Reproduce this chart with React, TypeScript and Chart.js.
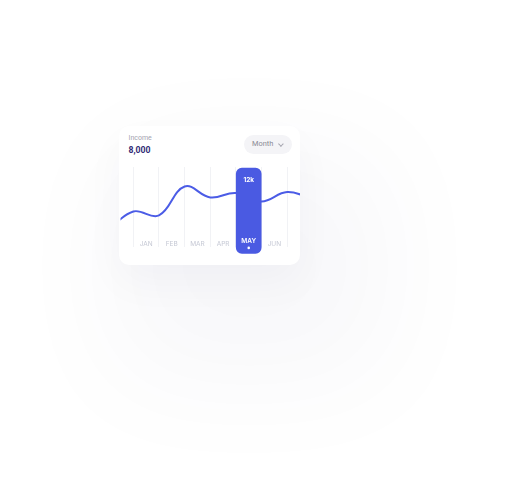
import React, { useEffect, useRef } from 'react';
import { Chart, registerables } from 'chart.js';

Chart.register(...registerables);

const months = ['JAN', 'FEB', 'MAR', 'APR', 'MAY', 'JUN'];
const monthPositions = [1, 2, 3, 4, 5, 6];
const curvePositions = [-0.5, 0.5, 1.5, 2.5, 3.5, 4.5, 5.5, 6.5, 7.5];
const incomeValues = [2.5, 5.33, 4.73, 9.08, 7.43, 8.1, 6.83, 8.25, 7.2];
const highlightIndex = 4;
const highlightRange = [-0.95, 11.85];
const highlightLabel = '12k';
const headerTitle = 'Income';
const headerValue = '8,000';
const periodLabel = 'Month';

const FONT = 'Inter, "Noto Sans", sans-serif';
const HFONT = 'Roboto, Inter, sans-serif';

const barLabelPlugin = {
  id: 'barLabel',
  afterDatasetsDraw(chart: any) {
    const meta = chart.getDatasetMeta(0);
    const bar = meta.data[0];
    if (!bar) return;
    const ctx = chart.ctx;
    ctx.save();
    ctx.fillStyle = '#ffffff';
    ctx.font = `700 6.5px ${FONT}`;
    ctx.textAlign = 'center';
    ctx.textBaseline = 'middle';
    ctx.fillText(highlightLabel, bar.x, bar.y + 12.5);
    ctx.beginPath();
    ctx.arc(bar.x, chart.chartArea.bottom + 0.9, 1.3, 0, Math.PI * 2);
    ctx.fill();
    ctx.restore();
  },
};

function IncomeChart() {
  const ref = useRef<HTMLCanvasElement | null>(null);
  useEffect(() => {
    if (!ref.current) return;
    const tickValues = monthPositions
      .flatMap((p) => [p - 0.5, p])
      .concat([monthPositions[monthPositions.length - 1] + 0.5]);
    const highlightPos = monthPositions[highlightIndex];
    const chart = new Chart(ref.current, {
      type: 'bar',
      data: {
        datasets: [
          {
            type: 'bar',
            data: [{ x: highlightPos, y: highlightRange }] as any,
            backgroundColor: '#4a5ae2',
            borderRadius: 6,
            borderSkipped: false,
            barThickness: 25,
            clip: false as any,
            order: 0,
          } as any,
          {
            type: 'line',
            data: curvePositions.map((x, i) => ({ x, y: incomeValues[i] })) as any,
            borderColor: '#4b5ce6',
            borderWidth: 2,
            pointRadius: 0,
            tension: 0.4,
            fill: false,
            order: 1,
          } as any,
        ],
      },
      options: {
        animation: false,
        responsive: false,
        maintainAspectRatio: false,
        events: [],
        layout: { padding: { top: 7, bottom: 18, left: 1.5, right: 0 } },
        plugins: { legend: { display: false }, tooltip: { enabled: false } },
        scales: {
          x: {
            type: 'linear',
            min: 0,
            max: 7,
            offset: false,
            afterBuildTicks: (axis: any) => {
              axis.ticks = tickValues.map((v) => ({ value: v }));
            },
            grid: {
              offset: false,
              drawTicks: false,
              lineWidth: 1,
              color: (c: any) => (c.tick && Number.isInteger(c.tick.value) ? 'rgba(0,0,0,0)' : '#f1f2f5'),
            },
            border: { display: false },
            ticks: {
              autoSkip: false,
              maxRotation: 0,
              mirror: true,
              padding: 0,
              z: 1,
              font: (c: any) => {
                const hi = c.tick && c.tick.value === highlightPos;
                return { family: FONT, size: 6.5, weight: hi ? '600' : '400', lineHeight: hi ? 1.85 : 0.83 };
              },
              color: (c: any) => (c.tick && c.tick.value === highlightPos ? '#ffffff' : '#c5c8d4'),
              callback: (v: any) => {
                const idx = monthPositions.indexOf(Number(v));
                return idx >= 0 ? months[idx] : '';
              },
            },
          } as any,
          y: { display: false, min: 0, max: 12 },
        },
      },
      plugins: [barLabelPlugin],
    } as any);
    return () => chart.destroy();
  }, []);
  return <canvas ref={ref} width={181} height={105} style={{ display: 'block', width: 181, height: 105 }} />;
}

export default function App() {
  return (
    <div style={{ position: 'relative', width: 505, height: 463 }}>
      <div
        style={{
          position: 'absolute',
          left: 111,
          top: 118,
          width: 181,
          height: 139,
          background: '#ffffff',
          borderRadius: 10,
          boxShadow: '0 18px 40px rgba(40,40,80,0.035), 40px 70px 120px 50px rgba(40,40,80,0.03)',
          fontFamily: HFONT,
        }}
      >
        <div style={{ position: 'absolute', left: 9.5, top: 7, fontSize: 7, lineHeight: '10px', color: '#a4a4b0' }}>{headerTitle}</div>
        <div style={{ position: 'absolute', left: 9.5, top: 17.5, fontSize: 8.7, lineHeight: '12px', fontWeight: 700, color: '#332d76' }}>{headerValue}</div>
        <div
          style={{
            position: 'absolute',
            left: 125,
            top: 9,
            width: 48,
            height: 19,
            borderRadius: 10,
            background: '#f4f4f7',
          }}
        >
          <span style={{ position: 'absolute', left: 8, top: 4, fontSize: 7.4, lineHeight: '10px', color: '#8a8a94' }}>{periodLabel}</span>
          <span
            style={{
              position: 'absolute',
              left: 34.5,
              top: 6.8,
              width: 2.8,
              height: 2.8,
              borderRight: '0.8px solid #a5a5af',
              borderBottom: '0.8px solid #a5a5af',
              transform: 'rotate(45deg)',
            }}
          />
        </div>
        <div style={{ position: 'absolute', left: 0, top: 34 }}>
          <IncomeChart />
        </div>
      </div>
    </div>
  );
}
